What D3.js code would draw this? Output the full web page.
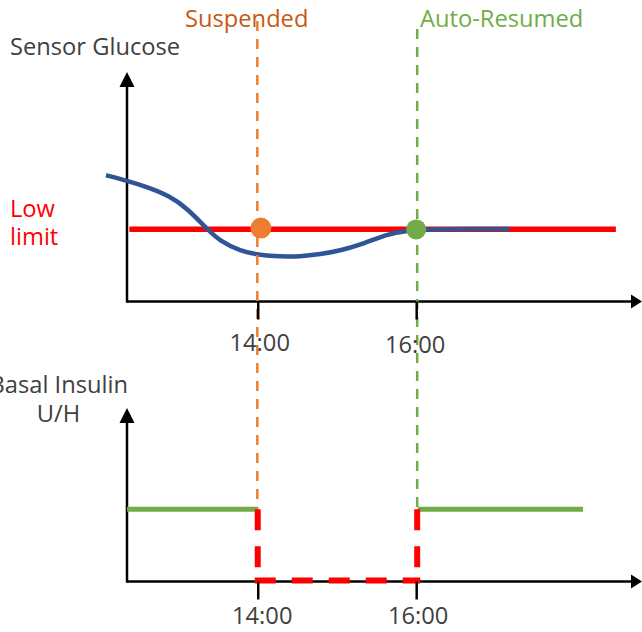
<!DOCTYPE html>
<html>
<head>
<meta charset="utf-8">
<script src="https://cdn.jsdelivr.net/npm/d3@7"></script>
<style>
  html, body { margin: 0; padding: 0; background: #fff; }
  svg { display: block; font-family: "Open Sans", sans-serif; }
</style>
</head>
<body>
<svg id="chart" width="642" height="632"></svg>
<script>
// ---- data ----
const tickHours = [14, 16];
const tickLabels = ["14:00", "16:00"];
const glucoseHours = [12.085, 12.35, 12.6, 12.89, 13.11, 13.36, 13.52, 13.78, 14.03, 14.28, 14.53, 14.79, 15.04, 15.29, 15.63, 15.88, 16.17, 16.68, 17.18];
const glucoseValues = [55.0, 52.6, 50.0, 46.0, 40.6, 31.6, 26.4, 22.0, 20.2, 19.6, 19.6, 20.6, 22.2, 24.6, 29.4, 30.9, 31.4, 31.6, 31.6];
const lowLimit = 31.5;
const lowLimitRange = [12.38, 18.52];
const suspendHour = 14.0;
const resumeHour = 16.0;
const suspendPoint = [14.04, 32.0];
const resumePoint = [16.0, 31.4];
const basalRate = 1.0;
const basalBefore = [12.35, 14.0];
const basalAfter = [16.02, 18.105];
const eventLabels = ["Suspended", "Auto-Resumed"];

// ---- scales ----
const svg = d3.select("#chart");
const x = d3.scaleLinear().domain([12.35, 18.85]).range([127, 642]);
const yG = d3.scaleLinear().domain([0, 100]).range([301.5, 72]);
const yB = d3.scaleLinear().domain([0, 2.4]).range([581.5, 408]);

const gray = "#404040", orange = "#ED7D31", orangeText = "#C55A11",
      green = "#70AD47", red = "#FF0000", blue = "#2F5597";
const fs = "23.7px";

// ---- axes (lines with arrowheads) ----
function axisPair(yScale, yMin) {
  const x0 = x.range()[0], x1 = x.range()[1];
  const y0 = yScale(yMin), yTop = yScale.range()[1];
  svg.append("line").attr("x1", x0).attr("x2", x1 - 6).attr("y1", y0).attr("y2", y0)
    .attr("stroke", "#000").attr("stroke-width", 2.5);
  svg.append("path").attr("d", `M${x1},${y0} L${x1 - 11},${y0 - 7} L${x1 - 11},${y0 + 7} Z`).attr("fill", "#000");
  svg.append("line").attr("x1", x0).attr("x2", x0).attr("y1", y0 + 1.2).attr("y2", yTop + 6)
    .attr("stroke", "#000").attr("stroke-width", 2.5);
  svg.append("path").attr("d", `M${x0},${yTop} L${x0 - 7.5},${yTop + 15} L${x0 + 7.5},${yTop + 15} Z`).attr("fill", "#000");
}
axisPair(yG, 0);
axisPair(yB, 0);

function ticks(yPos, pad, nudges) {
  const g = svg.append("g").attr("transform", `translate(0,${yPos})`)
    .call(d3.axisBottom(x).tickValues(tickHours).tickSize(18).tickPadding(pad)
      .tickFormat((d, i) => tickLabels[i]));
  g.select(".domain").remove();
  g.selectAll(".tick line").attr("stroke", "#000").attr("stroke-width", 2.5);
  g.selectAll(".tick text").attr("fill", gray).style("font-size", fs)
    .style("font-family", "'Open Sans', sans-serif")
    .attr("dx", (d, i) => nudges[i][0])
    .attr("dy", null)
    .attr("y", (d, i) => 18 + pad + 16.3 + nudges[i][1]);
  return g;
}

// ---- low limit line ----
svg.append("line")
  .attr("x1", x(lowLimitRange[0])).attr("x2", x(lowLimitRange[1]))
  .attr("y1", yG(lowLimit)).attr("y2", yG(lowLimit))
  .attr("stroke", red).attr("stroke-width", 5.5);

// ---- glucose curve ----
const line = d3.line().x((d, i) => x(glucoseHours[i])).y(d => yG(d)).curve(d3.curveBasis);
svg.append("path").attr("d", line(glucoseValues))
  .attr("fill", "none").attr("stroke", blue).attr("stroke-width", 4.5);

// ---- event dashed lines ----
svg.append("line").attr("x1", x(suspendHour) - 0.4).attr("x2", x(suspendHour) - 0.4)
  .attr("y1", 21).attr("y2", yB(basalRate))
  .attr("stroke", orange).attr("stroke-width", 2.5).attr("stroke-dasharray", "10,8");
svg.append("line").attr("x1", x(resumeHour) + 1).attr("x2", x(resumeHour) + 1)
  .attr("y1", 29).attr("y2", yB(basalRate))
  .attr("stroke", green).attr("stroke-width", 2.5).attr("stroke-dasharray", "10,8");

// ---- event dots ----
svg.append("circle").attr("cx", x(suspendPoint[0])).attr("cy", yG(suspendPoint[1])).attr("r", 10.5).attr("fill", orange);
svg.append("circle").attr("cx", x(resumePoint[0])).attr("cy", yG(resumePoint[1])).attr("r", 10).attr("fill", green);

// ---- basal lines ----
svg.append("line").attr("x1", x(basalBefore[0])).attr("x2", x(basalBefore[1]))
  .attr("y1", yB(basalRate)).attr("y2", yB(basalRate)).attr("stroke", green).attr("stroke-width", 5);
svg.append("line").attr("x1", x(basalAfter[0])).attr("x2", x(basalAfter[1]))
  .attr("y1", yB(basalRate)).attr("y2", yB(basalRate)).attr("stroke", green).attr("stroke-width", 5);

// suspended (red dashed)
const redDash = "21,16";
svg.append("line").attr("x1", x(suspendHour)).attr("x2", x(suspendHour))
  .attr("y1", yB(basalRate)).attr("y2", yB(0))
  .attr("stroke", red).attr("stroke-width", 6).attr("stroke-dasharray", redDash);
svg.append("line").attr("x1", x(suspendHour) - 3).attr("x2", x(resumeHour) + 4)
  .attr("y1", yB(0) - 1).attr("y2", yB(0) - 1)
  .attr("stroke", red).attr("stroke-width", 6).attr("stroke-dasharray", redDash);
svg.append("line").attr("x1", x(resumeHour) + 1).attr("x2", x(resumeHour) + 1)
  .attr("y1", yB(basalRate)).attr("y2", yB(0))
  .attr("stroke", red).attr("stroke-width", 6).attr("stroke-dasharray", redDash);

// ---- ticks ----
ticks(yG(0), 15, [[1.5, 0], [-1.5, 2]]);
ticks(yB(0), 8, [[4, 0], [1.5, 0]]);

// ---- texts ----
const txt = (s, xx, yy, fill, anchor) => svg.append("text").text(s)
  .attr("x", xx).attr("y", yy).attr("fill", fill).attr("text-anchor", anchor || "start")
  .style("font-size", fs);
txt("Sensor Glucose", 10, 54.5, gray);
txt(eventLabels[0], 185, 27, orangeText);
txt(eventLabels[1], 420, 27, green);
txt("Low", 10, 217, red);
txt("limit", 10, 245, red);
txt("Basal Insulin", 128, 393, gray, "end");
txt("U/H", 58.5, 422, gray, "middle");
</script>
</body>
</html>
